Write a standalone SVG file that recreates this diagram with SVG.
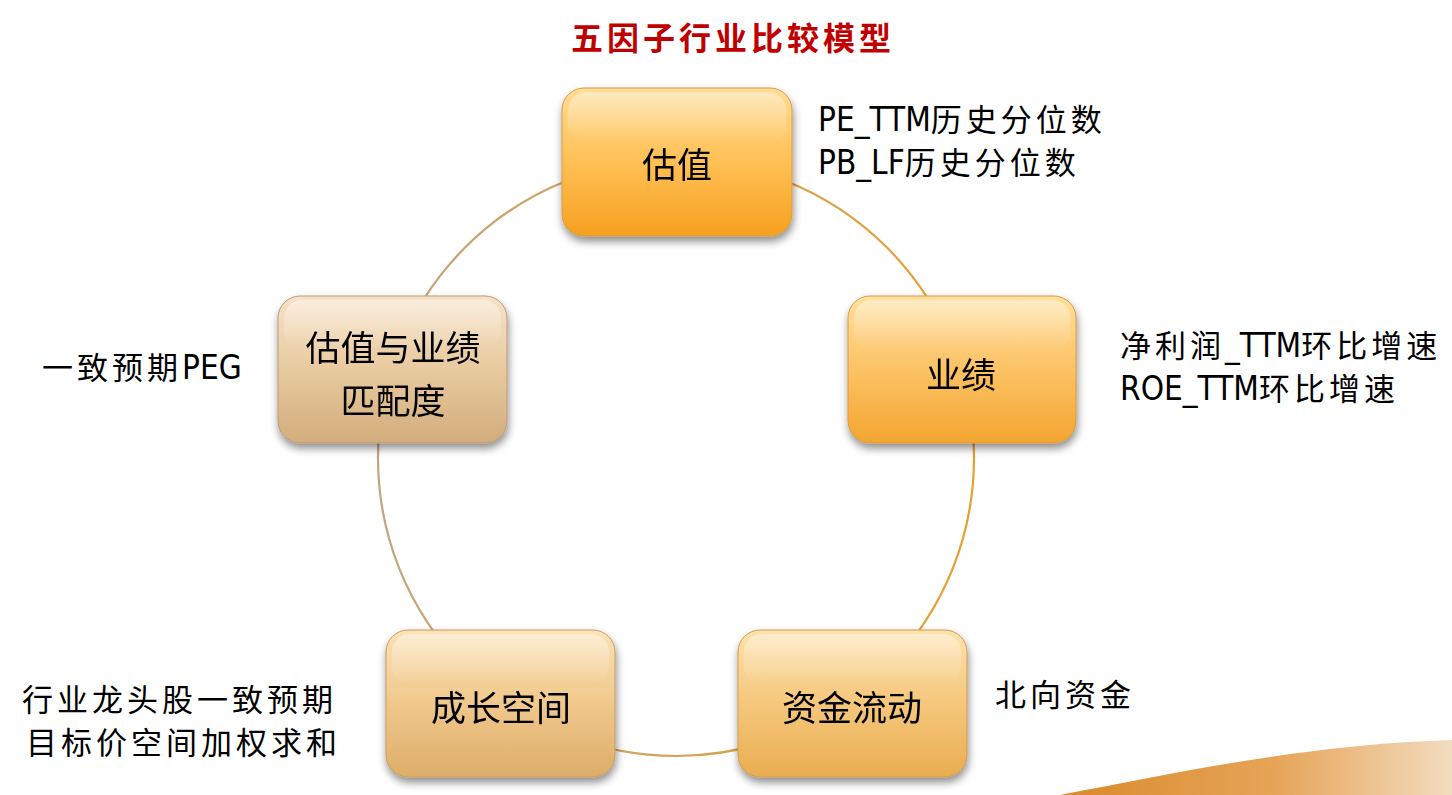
<svg xmlns="http://www.w3.org/2000/svg" width="1452" height="795" viewBox="0 0 1452 795">
<defs>
<style>
.nt{font-family:"Noto Sans CJK SC","Noto Sans",sans-serif;font-size:35px;fill:#000;text-anchor:middle;dominant-baseline:central}
.an{font-family:"AR PL UKai CN","Noto Sans CJK SC",sans-serif;font-size:31px;fill:#000;letter-spacing:4px}
.lat{font-family:"Liberation Sans Narrow","DejaVu Sans Condensed","Liberation Sans",sans-serif;font-size:33px;letter-spacing:0}
.ttl{font-family:"Noto Sans CJK SC",sans-serif;font-size:32px;font-weight:bold;fill:#c00000;letter-spacing:4px;text-anchor:middle}
</style>
<filter id="sh" x="-10%" y="-10%" width="125%" height="130%">
<feGaussianBlur in="SourceAlpha" stdDeviation="4"/>
<feOffset dx="1" dy="5" result="b"/>
<feComponentTransfer><feFuncA type="linear" slope="0.45"/></feComponentTransfer>
<feMerge><feMergeNode/><feMergeNode in="SourceGraphic"/></feMerge>
</filter>
<linearGradient id="g1" x1="0" y1="0" x2="0" y2="1"><stop offset="0" stop-color="#ffdc95"/><stop offset="0.5" stop-color="#ffc055"/><stop offset="1" stop-color="#f5a020"/></linearGradient>
<linearGradient id="g2" x1="0" y1="0" x2="0" y2="1"><stop offset="0" stop-color="#ffe0a0"/><stop offset="0.5" stop-color="#fcc265"/><stop offset="1" stop-color="#f3a530"/></linearGradient>
<linearGradient id="g3" x1="0" y1="0" x2="0" y2="1"><stop offset="0" stop-color="#fde2ad"/><stop offset="0.5" stop-color="#f5c77c"/><stop offset="1" stop-color="#e9ad50"/></linearGradient>
<linearGradient id="g4" x1="0" y1="0" x2="0" y2="1"><stop offset="0" stop-color="#fbe2b8"/><stop offset="0.5" stop-color="#f0c88c"/><stop offset="1" stop-color="#ddad68"/></linearGradient>
<linearGradient id="g5" x1="0" y1="0" x2="0" y2="1"><stop offset="0" stop-color="#f6e2c8"/><stop offset="0.5" stop-color="#e8ca9f"/><stop offset="1" stop-color="#d2ac7c"/></linearGradient>
<linearGradient id="gl" x1="0" y1="0" x2="0" y2="1"><stop offset="0" stop-color="#fff" stop-opacity="0.4"/><stop offset="1" stop-color="#fff" stop-opacity="0"/></linearGradient>
<linearGradient id="gc" x1="0" y1="0" x2="1" y2="0"><stop offset="0" stop-color="#c4a47c"/><stop offset="1" stop-color="#e6a030"/></linearGradient>
<linearGradient id="gs" x1="0" y1="0" x2="1" y2="0"><stop offset="0" stop-color="#d98a2a"/><stop offset="0.55" stop-color="#e6a458"/><stop offset="1" stop-color="#f2dcc0"/></linearGradient>
</defs>
<rect width="1452" height="795" fill="#fff"/>
<path d="M1060,795 C1180,772 1310,744 1452,740 L1452,795 Z" fill="url(#gs)"/>
<text class="ttl" x="733" y="50">五因子行业比较模型</text>
<g id="connectors">
<circle cx="676" cy="458" r="298" fill="none" stroke="url(#gc)" stroke-width="2.2"/>
</g>
<g id="node-guzhi" filter="url(#sh)">
<rect x="562" y="88" width="230" height="148" rx="22" fill="url(#g1)" stroke="#d89a40" stroke-width="1"/>
<rect x="568" y="92" width="218" height="50" rx="18" fill="url(#gl)"/>
<text class="nt" x="677" y="162">估值</text>
</g>
<g id="node-yeji" filter="url(#sh)">
<rect x="848" y="296" width="228" height="147" rx="22" fill="url(#g2)" stroke="#d89a40" stroke-width="1"/>
<rect x="854" y="300" width="216" height="50" rx="18" fill="url(#gl)"/>
<text class="nt" x="961" y="372">业绩</text>
</g>
<g id="node-zijin" filter="url(#sh)">
<rect x="738" y="630" width="229" height="147" rx="22" fill="url(#g3)" stroke="#d09a50" stroke-width="1"/>
<rect x="744" y="634" width="217" height="50" rx="18" fill="url(#gl)"/>
<text class="nt" x="852" y="705">资金流动</text>
</g>
<g id="node-chengzhang" filter="url(#sh)">
<rect x="386" y="630" width="229" height="147" rx="22" fill="url(#g4)" stroke="#c89a60" stroke-width="1"/>
<rect x="392" y="634" width="217" height="50" rx="18" fill="url(#gl)"/>
<text class="nt" x="501" y="705">成长空间</text>
</g>
<g id="node-pipei" filter="url(#sh)">
<rect x="278" y="296" width="229" height="147" rx="22" fill="url(#g5)" stroke="#b89a78" stroke-width="1"/>
<rect x="284" y="300" width="217" height="50" rx="18" fill="url(#gl)"/>
<text class="nt" x="393" y="345">估值与业绩</text>
<text class="nt" x="393" y="398">匹配度</text>
</g>
<g id="annotations">
<text class="an" x="818" y="131"><tspan class="lat">PE_TTM</tspan>历史分位数</text>
<text class="an" x="818" y="174"><tspan class="lat">PB_LF</tspan>历史分位数</text>
<text class="an" x="1120" y="357">净利润<tspan class="lat">_TTM</tspan>环比增速</text>
<text class="an" x="1120" y="400"><tspan class="lat">ROE_TTM</tspan>环比增速</text>
<text class="an" x="42" y="379">一致预期<tspan class="lat">PEG</tspan></text>
<text class="an" x="995" y="706">北向资金</text>
<text class="an" x="22" y="711">行业龙头股一致预期</text>
<text class="an" x="26" y="754">目标价空间加权求和</text>
</g>
</svg>
